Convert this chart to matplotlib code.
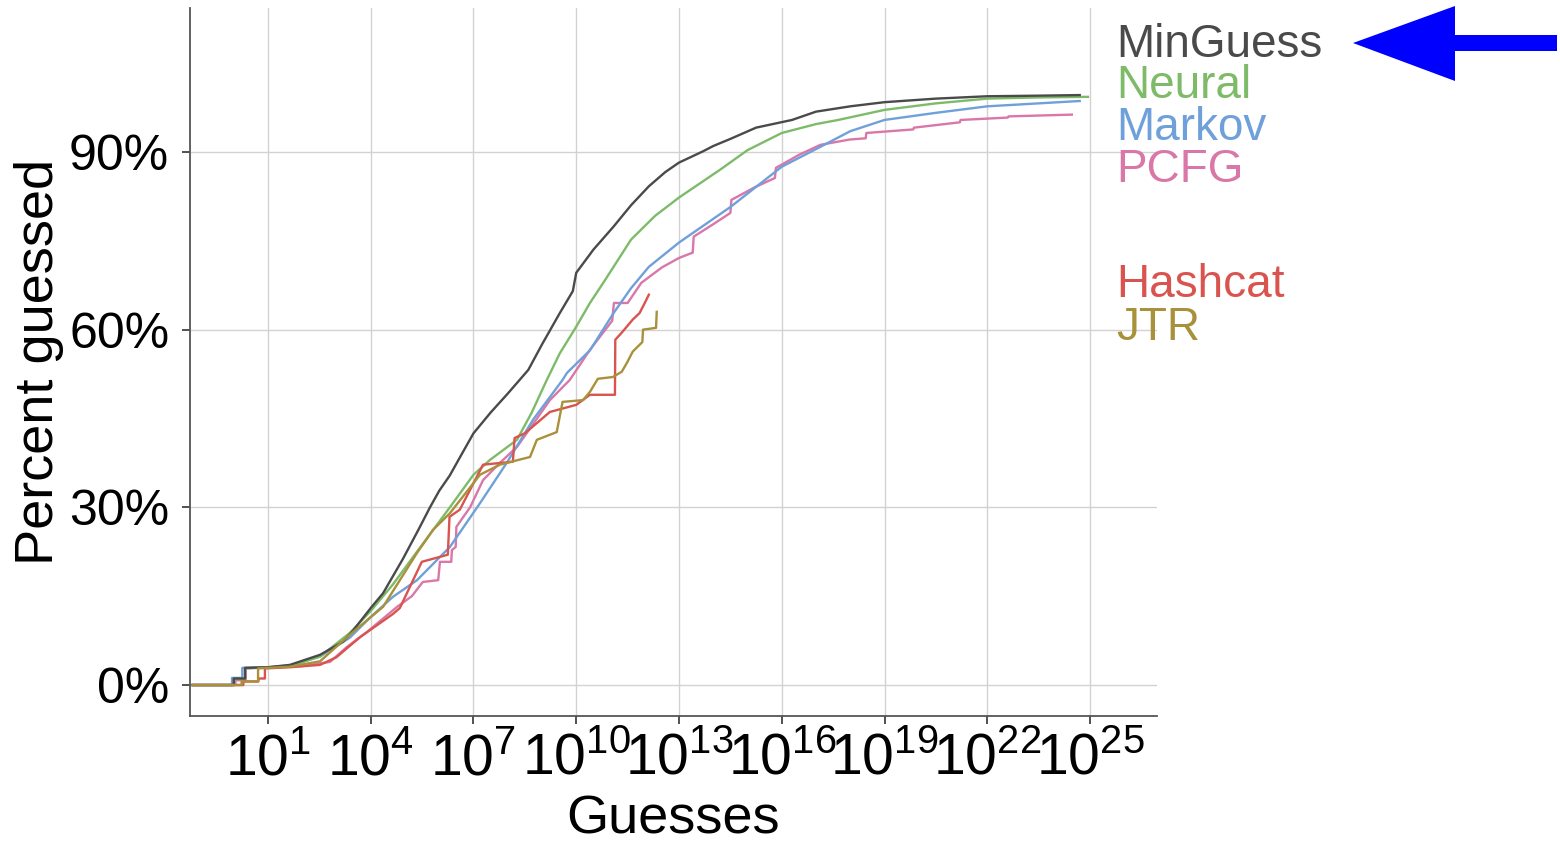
import numpy as np
import matplotlib
matplotlib.use("Agg")
import matplotlib.pyplot as plt
from matplotlib.patches import Polygon
from matplotlib.ticker import FixedLocator, NullLocator, FuncFormatter

plt.rcParams['font.family'] = ['Liberation Sans', 'DejaVu Sans']
plt.rcParams['mathtext.fontset'] = 'custom'
plt.rcParams['mathtext.rm'] = 'Liberation Sans'
plt.rcParams['mathtext.it'] = 'Liberation Sans:italic'
plt.rcParams['mathtext.bf'] = 'Liberation Sans:bold'

# ---- data: log10(guesses) and percent guessed ----
minguess_log10 = [-1.2, 0.0, 0.0, 0.33, 0.33, 1.0, 1.64, 2.52, 3.19, 3.5, 4.0, 4.36, 4.94, 5.4, 5.73,
                  6.0, 6.31, 6.6, 7.0, 7.5, 8.0, 8.6, 9.0, 9.52, 9.9, 10.0, 10.5, 11.09, 11.6, 12.12,
                  12.6, 13.0, 13.7, 14.0, 14.5, 15.25, 16.3, 17.0, 18.0, 19.0, 20.5, 22.0, 23.5, 24.7]
minguess_pct = [0, 0, 1.1, 1.1, 2.9, 3.0, 3.4, 5.1, 7.3, 9.3, 13.0, 15.5, 21.3, 26.3, 30.0,
                32.8, 35.4, 38.4, 42.5, 46.0, 49.2, 53.2, 57.5, 62.8, 66.5, 69.6, 73.5, 77.4, 81.0, 84.2,
                86.6, 88.2, 90.1, 91.0, 92.2, 94.1, 95.4, 96.8, 97.7, 98.4, 99.0, 99.4, 99.5, 99.6]

neural_log10 = [-1.2, 0.0, 0.0, 0.33, 0.33, 1.0, 1.64, 2.52, 3.39, 4.0, 4.65, 5.35, 6.31, 7.0, 7.48,
                8.27, 8.7, 9.14, 9.52, 10.0, 10.4, 10.8, 11.6, 12.3, 13.0, 14.2, 15.0, 16.0, 17.0, 17.65,
                19.0, 20.5, 22.0, 23.5, 24.94]
neural_pct = [0, 0, 1.0, 1.0, 2.8, 3.0, 3.2, 4.8, 8.8, 12.5, 17.0, 22.5, 30.0, 35.5, 38.0,
              41.4, 46.0, 51.5, 56.0, 60.5, 64.5, 68.0, 75.2, 79.2, 82.3, 87.0, 90.3, 93.2, 94.7, 95.4,
              97.1, 98.2, 99.0, 99.2, 99.3]

markov_log10 = [-1.2, -0.05, -0.05, 0.25, 0.25, 1.0, 1.64, 2.52, 3.39, 4.0, 4.65, 5.35, 6.31, 7.19,
                7.97, 8.74, 9.6, 9.73, 10.4, 11.09, 11.6, 12.12, 13.0, 14.5, 16.0, 17.14, 18.0, 19.0,
                20.5, 22.0, 23.5, 24.7]
markov_pct = [0, 0, 1.2, 1.2, 2.9, 3.0, 3.3, 4.8, 8.0, 11.5, 14.9, 17.7, 23.3, 30.7,
              37.5, 44.8, 51.5, 52.7, 56.5, 62.8, 67.0, 70.6, 74.7, 80.7, 87.5, 90.9, 93.5, 95.4,
              96.6, 97.7, 98.2, 98.6]

pcfg_log10 = [-1.2, 0.05, 0.05, 0.35, 0.35, 1.0, 2.0, 2.81, 3.3, 3.9, 4.77, 5.2, 5.52, 5.97, 6.02,
              6.35, 6.37, 6.48, 6.5, 6.9, 7.28, 7.77, 8.27, 9.23, 9.81, 10.4, 11.05, 11.1, 11.5,
              11.9, 12.5, 13.0, 13.4, 13.43, 14.0, 14.5, 14.53, 15.2, 15.8, 15.83, 16.5, 17.13,
              17.99, 18.45, 18.47, 19.84, 19.86, 21.2, 21.22, 22.6, 22.62, 24.47]
pcfg_pct = [0, 0, 0.8, 0.8, 2.8, 3.0, 3.2, 3.9, 6.4, 9.0, 13.2, 15.0, 17.4, 17.7, 20.8,
            20.8, 22.8, 23.3, 26.7, 30.0, 34.6, 37.5, 40.2, 48.1, 51.5, 56.6, 61.5, 64.5, 64.5,
            67.9, 70.5, 72.1, 73.0, 75.7, 77.8, 79.7, 81.9, 84.0, 85.6, 87.3, 89.5, 91.2,
            92.1, 92.3, 93.2, 93.8, 94.1, 95.0, 95.4, 95.8, 96.0, 96.3]

hashcat_log10 = [-1.2, 0.28, 0.28, 0.72, 0.72, 0.91, 0.91, 1.64, 2.52, 3.0, 3.69, 4.65, 4.85, 5.49,
                 6.25, 6.3, 6.6, 7.28, 8.15, 8.2, 8.5, 9.23, 10.0, 10.4, 11.13, 11.14, 11.33,
                 11.65, 11.85, 12.0, 12.12]
hashcat_pct = [0, 0, 0.6, 0.6, 1.1, 1.1, 2.8, 3.0, 3.4, 4.7, 8.1, 12.0, 13.0, 20.8,
               22.0, 28.4, 29.6, 37.2, 37.7, 41.7, 42.5, 46.1, 47.3, 49.0, 49.0, 58.3, 59.5,
               61.7, 62.8, 64.5, 65.9]

jtr_log10 = [-1.2, 0.23, 0.23, 0.71, 0.71, 1.64, 2.52, 3.39, 4.36, 5.35, 5.82, 6.31, 7.19, 7.77,
             8.65, 8.85, 9.43, 9.6, 10.2, 10.4, 10.63, 11.07, 11.33, 11.48, 11.65, 11.93, 11.95,
             12.33, 12.35]
jtr_pct = [0, 0, 0.6, 0.6, 2.8, 3.1, 4.0, 8.5, 13.2, 22.3, 26.2, 29.0, 35.5, 37.2,
           38.5, 41.4, 42.7, 47.8, 48.1, 49.5, 51.7, 52.0, 52.9, 54.4, 56.3, 57.9, 60.0,
           60.3, 63.0]

series_names = ["PCFG", "Markov", "Neural", "MinGuess", "Hashcat", "JTR"]
series_x = [pcfg_log10, markov_log10, neural_log10, minguess_log10, hashcat_log10, jtr_log10]
series_y = [pcfg_pct, markov_pct, neural_pct, minguess_pct, hashcat_pct, jtr_pct]
colors = {"MinGuess": "#4a4a4a", "Neural": "#7dbb69", "Markov": "#6fa0da",
          "PCFG": "#d977a8", "Hashcat": "#d9534f", "JTR": "#a8913a"}

label_order = ["MinGuess", "Neural", "Markov", "PCFG", "Hashcat", "JTR"]
label_baseline_px = [57, 98, 140, 182, 297, 340]

x_tick_exps = [1, 4, 7, 10, 13, 16, 19, 22, 25]
y_ticks = [0, 30, 60, 90]

# ---- figure ----
W, H = 1560, 843
fig = plt.figure(figsize=(W / 100, H / 100), dpi=100)
ax = fig.add_axes([190 / W, (H - 716) / H, 967 / W, 708 / H])

for name, xs, ys in zip(series_names, series_x, series_y):
    ax.plot(np.power(10.0, xs), ys, color=colors[name], lw=1.7, solid_joinstyle='round')

ax.set_xscale('log')
ax.set_xlim(10 ** -1.277, 10 ** 26.956)
ax.set_ylim(-5.23, 114.3)

ax.xaxis.set_major_locator(FixedLocator([10.0 ** e for e in x_tick_exps]))
ax.xaxis.set_minor_locator(NullLocator())
ax.xaxis.set_major_formatter(FuncFormatter(lambda v, p: r'$\mathregular{10^{%d}}$' % round(np.log10(v))))
ax.set_yticks(y_ticks)
ax.yaxis.set_major_formatter(FuncFormatter(lambda v, p: '%d%%' % v))

ax.grid(True, color='#d2d2d2', lw=1.0)
ax.set_axisbelow(True)
for s in ['top', 'right']:
    ax.spines[s].set_visible(False)
for s in ['left', 'bottom']:
    ax.spines[s].set_color('#555555')
    ax.spines[s].set_linewidth(1.3)

ax.tick_params(axis='x', labelsize=41, length=6, width=1.2, color='#333333', pad=6, labelcolor='black')
ax.tick_params(axis='y', labelsize=36, length=6, width=1.2, color='#333333', pad=9, labelcolor='black')

ax.set_xlabel('Guesses', fontsize=39)
ax.xaxis.set_label_coords(0.5, (716 - 795) / 708)
ax.xaxis.label.set_va('top')
ax.set_ylabel('Percent guessed', fontsize=39)
ax.yaxis.set_label_coords((64 - 190) / 967, 0.5)

for name, yb in zip(label_order, label_baseline_px):
    fig.text(1116 / W, 1 - yb / H, name, color=colors[name], fontsize=33,
             ha='left', va='baseline')

arrow_px = [(1353, 43), (1455, 6), (1455, 35), (1557, 35), (1557, 51), (1455, 51), (1455, 81)]
fig.add_artist(Polygon([(x / W, 1 - y / H) for x, y in arrow_px], closed=True,
                       transform=fig.transFigure, facecolor='#0000ff', edgecolor='none'))

fig.savefig('out.png', dpi=100)
